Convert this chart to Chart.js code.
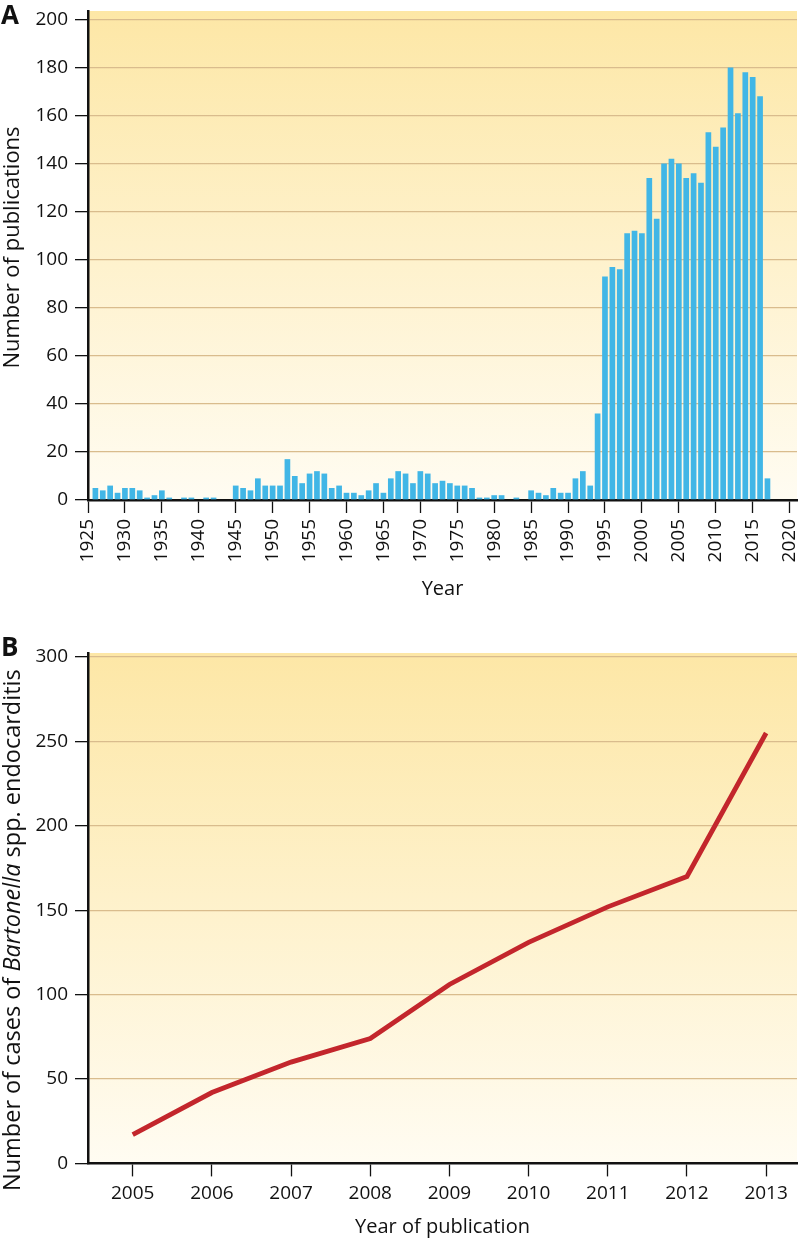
<!DOCTYPE html>
<html>
<head>
<meta charset="utf-8">
<script src="https://cdn.jsdelivr.net/npm/chart.js@4.4.1/dist/chart.umd.min.js"></script>
<style>
  html, body { margin: 0; padding: 0; background: #fff; }
  #wrap { position: relative; width: 800px; height: 1242px; font-family: "Open Sans", sans-serif; }
  canvas { position: absolute; left: 0; }
  #chartA { top: 0; }
  #chartB { top: 612px; }
  .panel { position: absolute; left: 1px; font-weight: 700; font-size: 26px; line-height: 1; color: #111; }
</style>
</head>
<body>
<div id="wrap">
  <canvas id="chartA" width="800" height="612"></canvas>
  <canvas id="chartB" width="800" height="630"></canvas>
  <div class="panel" style="top:1px">A</div>
  <div class="panel" style="top:633px">B</div>
</div>
<script>
// --- panel A: publications per year ---
const pubYears = [
  1926, 1927, 1928, 1929, 1930, 1931, 1932, 1933, 1934, 1935,
  1936, 1937, 1938, 1939, 1940, 1941, 1942, 1943, 1944, 1945,
  1946, 1947, 1948, 1949, 1950, 1951, 1952, 1953, 1954, 1955,
  1956, 1957, 1958, 1959, 1960, 1961, 1962, 1963, 1964, 1965,
  1966, 1967, 1968, 1969, 1970, 1971, 1972, 1973, 1974, 1975,
  1976, 1977, 1978, 1979, 1980, 1981, 1982, 1983, 1984, 1985,
  1986, 1987, 1988, 1989, 1990, 1991, 1992, 1993, 1994, 1995,
  1996, 1997, 1998, 1999, 2000, 2001, 2002, 2003, 2004, 2005,
  2006, 2007, 2008, 2009, 2010, 2011, 2012, 2013, 2014, 2015,
  2016, 2017
];
const pubCounts = [
  5, 4, 6, 3, 5, 5, 4, 1, 2, 4,
  1, 0, 1, 1, 0, 1, 1, 0, 0, 6,
  5, 4, 9, 6, 6, 6, 17, 10, 7, 11,
  12, 11, 5, 6, 3, 3, 2, 4, 7, 3,
  9, 12, 11, 7, 12, 11, 7, 8, 7, 6,
  6, 5, 1, 1, 2, 2, 0, 1, 0, 4,
  3, 2, 5, 3, 3, 9, 12, 6, 36, 93,
  97, 96, 111, 112, 111, 134, 117, 140, 142, 140,
  134, 136, 132, 153, 147, 155, 180, 161, 178, 176,
  168, 9
];
const xTicksA = [1925, 1930, 1935, 1940, 1945, 1950, 1955, 1960, 1965, 1970,
                 1975, 1980, 1985, 1990, 1995, 2000, 2005, 2010, 2015, 2020];
const yTicksA = [0, 20, 40, 60, 80, 100, 120, 140, 160, 180, 200];

// --- panel B: endocarditis cases ---
const caseYears = [2005, 2006, 2007, 2008, 2009, 2010, 2011, 2012, 2013];
const caseCounts = [17, 42, 60, 74, 106, 131, 152, 170, 255];
const yTicksB = [0, 50, 100, 150, 200, 250, 300];

const INK = '#111';
const GRID = '#d9bc8d';
const FAMILY = '"Open Sans", sans-serif';
const tickFont = { family: FAMILY, size: 19 };
const titleFont = { family: FAMILY, size: 20 };

// yellow gradient behind the plot area
const plotBg = {
  id: 'plotBg',
  beforeDraw(chart) {
    const { ctx, chartArea: a } = chart;
    const g = ctx.createLinearGradient(0, a.top, 0, a.bottom);
    g.addColorStop(0, '#fde7a6');
    g.addColorStop(1, '#fffcf2');
    ctx.save();
    ctx.fillStyle = g;
    ctx.fillRect(a.left, a.top, a.right - a.left, a.bottom - a.top);
    ctx.restore();
  }
};

// rotated y title, pieces can be italic
const yTitle = {
  id: 'yTitle',
  afterDraw(chart, args, opts) {
    const ctx = chart.ctx;
    const a = chart.chartArea;
    const font = st => st + ' ' + opts.size + 'px ' + FAMILY;
    ctx.save();
    ctx.fillStyle = INK;
    ctx.textBaseline = 'middle';
    ctx.textAlign = 'left';
    let total = 0;
    opts.parts.forEach(p => { ctx.font = font(p[1]); total += ctx.measureText(p[0]).width; });
    ctx.translate(opts.x, (a.top + a.bottom) / 2 + opts.shift);
    ctx.rotate(-Math.PI / 2);
    let x = -total / 2;
    opts.parts.forEach(p => {
      ctx.font = font(p[1]);
      ctx.fillText(p[0], x, 0);
      x += ctx.measureText(p[0]).width;
    });
    ctx.restore();
  }
};

function keepTicks(list) {
  return scale => { scale.ticks = list.map(v => ({ value: v })); };
}
function fixY(scale) {
  scale.width = 88;
  scale.paddingTop = 0;
  scale.paddingBottom = 0;
}
function fixX(h) {
  return scale => {
    scale.height = h;
    scale.paddingLeft = 0;
    scale.paddingRight = 0;
  };
}
const yGrid = {
  color: c => (c.tick && c.tick.value === 0) ? 'rgba(0,0,0,0)' : GRID,
  lineWidth: 1.3, tickLength: 13, tickColor: INK, tickWidth: 1.3
};

new Chart(document.getElementById('chartA'), {
  type: 'bar',
  data: {
    datasets: [{
      data: pubYears.map((y, i) => ({ x: y, y: pubCounts[i] })),
      backgroundColor: '#41b6e6',
      borderWidth: 0,
      barPercentage: 0.77,
      categoryPercentage: 1.0
    }]
  },
  options: {
    responsive: false,
    animation: false,
    devicePixelRatio: 1,
    layout: { padding: { top: 11, right: 3, left: 0, bottom: 0 } },
    plugins: {
      legend: { display: false }, tooltip: { enabled: false },
      yTitle: { parts: [['Number of publications', 'normal']], size: 22, x: 13, shift: -8 }
    },
    scales: {
      x: {
        type: 'linear',
        offset: false,
        min: 1925,
        max: 2021,
        afterBuildTicks: keepTicks(xTicksA),
        afterFit: fixX(112),
        grid: { drawOnChartArea: false, offset: false, tickLength: 13, tickColor: INK, tickWidth: 1.3 },
        border: { color: INK, width: 2.5 },
        ticks: {
          autoSkip: false, minRotation: 90, maxRotation: 90, padding: 6,
          color: INK, font: tickFont, callback: v => String(v)
        },
        title: { display: true, text: 'Year', color: INK, font: titleFont, padding: { top: 0, bottom: 11 } }
      },
      y: {
        min: 0,
        max: 203.5,
        afterBuildTicks: keepTicks(yTicksA),
        afterFit: fixY,
        grid: yGrid,
        border: { color: INK, width: 2.5 },
        ticks: { padding: 7, color: INK, font: tickFont, callback: v => String(v) }
      }
    }
  },
  plugins: [plotBg, yTitle]
});

new Chart(document.getElementById('chartB'), {
  type: 'line',
  data: {
    datasets: [{
      data: caseYears.map((y, i) => ({ x: y, y: caseCounts[i] })),
      borderColor: '#c3262c',
      borderWidth: 4.8,
      pointRadius: 0,
      tension: 0,
      fill: false
    }]
  },
  options: {
    responsive: false,
    animation: false,
    devicePixelRatio: 1,
    layout: { padding: { top: 41, right: 3, left: 0, bottom: 0 } },
    plugins: {
      legend: { display: false }, tooltip: { enabled: false },
      yTitle: {
        parts: [['Number of cases of ', 'normal'], ['Bartonella', 'italic'], [' spp. endocarditis', 'normal']],
        size: 23.5, x: 13, shift: 22
      }
    },
    scales: {
      x: {
        type: 'linear',
        min: 2004.435,
        max: 2013.39,
        afterBuildTicks: keepTicks(caseYears),
        afterFit: fixX(78.6),
        grid: { drawOnChartArea: false, tickLength: 13, tickColor: INK, tickWidth: 1.3 },
        border: { color: INK, width: 2.5 },
        ticks: { maxRotation: 0, padding: 6, color: INK, font: tickFont, callback: v => String(v) },
        title: { display: true, text: 'Year of publication', color: INK, font: titleFont, padding: { top: 0, bottom: 3 } }
      },
      y: {
        min: 0,
        max: 302.4,
        afterBuildTicks: keepTicks(yTicksB),
        afterFit: fixY,
        grid: yGrid,
        border: { color: INK, width: 2.5 },
        ticks: { padding: 7, color: INK, font: tickFont, callback: v => String(v) }
      }
    }
  },
  plugins: [plotBg, yTitle]
});
</script>
</body>
</html>
